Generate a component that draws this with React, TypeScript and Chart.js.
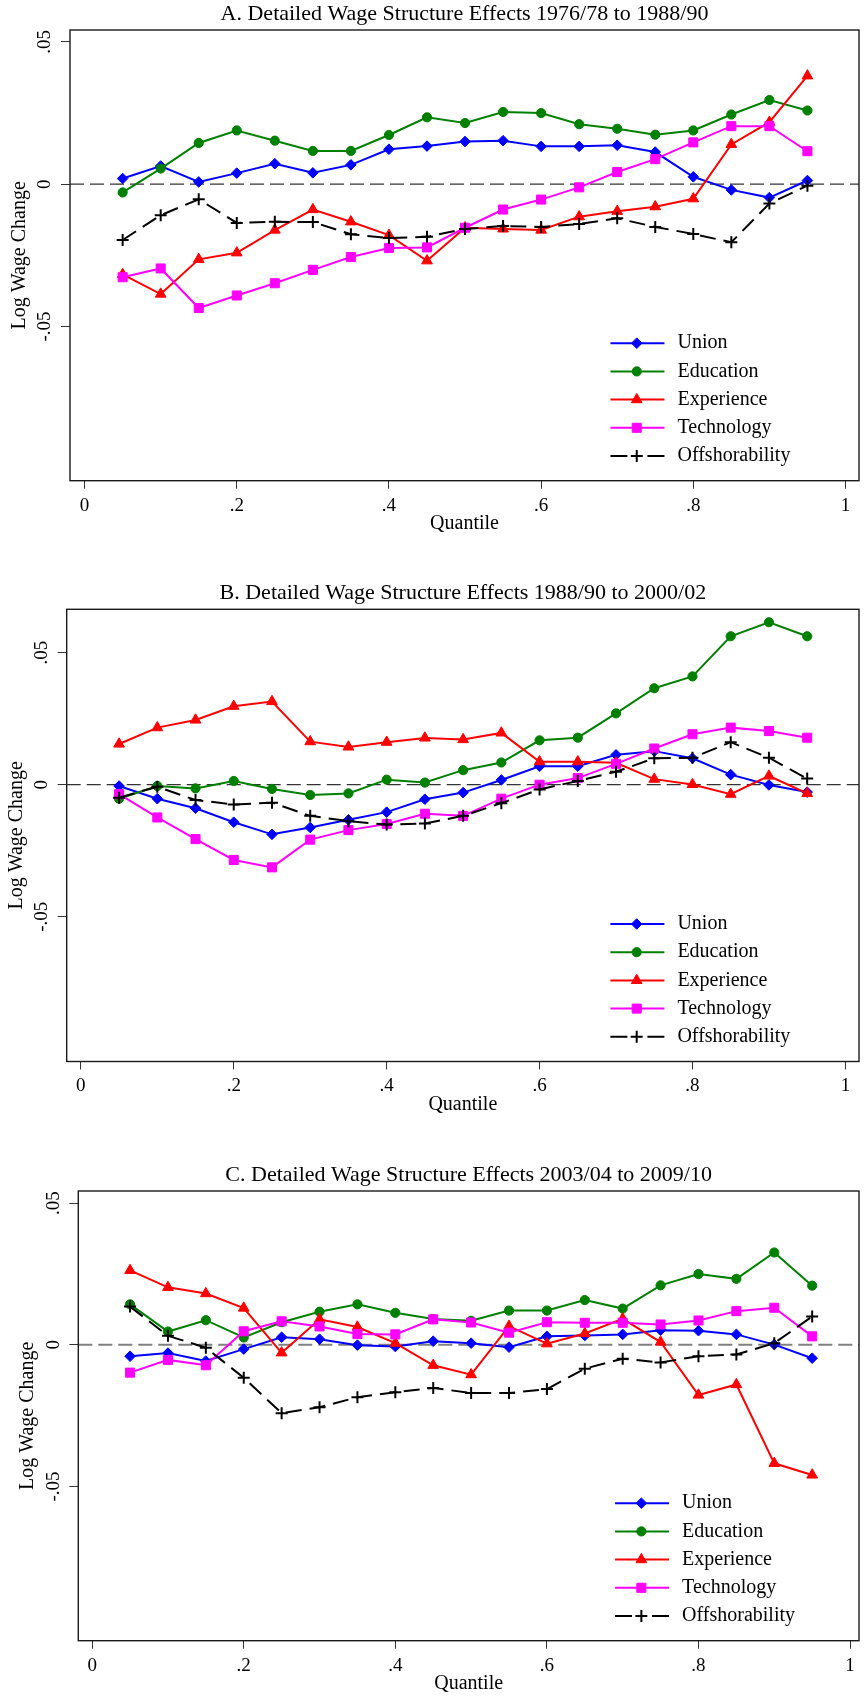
import React, { useEffect, useRef } from 'react';
import { Chart, registerables } from 'chart.js';
import { drawPoint } from 'chart.js/helpers';

Chart.register(...registerables);

const FONT = '"Liberation Serif", "Times New Roman", Times, serif';

// ---------- data ----------
const quantiles = [0.05, 0.1, 0.15, 0.2, 0.25, 0.3, 0.35, 0.4, 0.45, 0.5, 0.55, 0.6, 0.65, 0.7, 0.75, 0.8, 0.85, 0.9, 0.95];
const seriesNames = ['Union', 'Education', 'Experience', 'Technology', 'Offshorability'];
const xTickValues = [0, 0.2, 0.4, 0.6, 0.8, 1];
const xTickLabels = ['0', '.2', '.4', '.6', '.8', '1'];
const yTickValues = [-0.05, 0, 0.05];
const yTickLabels = ['-.05', '0', '.05'];
const xAxisTitle = 'Quantile';
const yAxisTitle = 'Log Wage Change';
const zeroLineValue = 0;

const titleA = 'A. Detailed Wage Structure Effects 1976/78 to 1988/90';
const titleB = 'B. Detailed Wage Structure Effects 1988/90 to 2000/02';
const titleC = 'C. Detailed Wage Structure Effects 2003/04 to 2009/10';

// Panel A
const unionA = [0.0020, 0.0064, 0.0008, 0.0039, 0.0072, 0.0040, 0.0068, 0.0123, 0.0134, 0.0150, 0.0153, 0.0133, 0.0133, 0.0137, 0.0113, 0.0026, -0.0020, -0.0047, 0.0013];
const educA = [-0.0029, 0.0055, 0.0145, 0.0189, 0.0153, 0.0117, 0.0117, 0.0173, 0.0235, 0.0215, 0.0254, 0.0250, 0.0211, 0.0195, 0.0174, 0.0189, 0.0245, 0.0296, 0.0259];
const expA = [-0.0317, -0.0386, -0.0264, -0.0241, -0.0161, -0.0089, -0.0132, -0.0179, -0.0269, -0.0153, -0.0157, -0.0161, -0.0114, -0.0095, -0.0079, -0.0051, 0.0140, 0.0218, 0.0381];
const techA = [-0.0327, -0.0296, -0.0435, -0.0391, -0.0348, -0.0301, -0.0256, -0.0224, -0.0222, -0.0153, -0.0089, -0.0054, -0.0011, 0.0043, 0.0088, 0.0147, 0.0204, 0.0204, 0.0116];
const offA = [-0.0196, -0.0109, -0.0053, -0.0136, -0.0132, -0.0133, -0.0176, -0.0189, -0.0185, -0.0157, -0.0147, -0.0150, -0.0140, -0.0120, -0.0150, -0.0175, -0.0204, -0.0068, -0.0005];

// Panel B
const unionB = [-0.0005, -0.0053, -0.0089, -0.0142, -0.0188, -0.0162, -0.0133, -0.0104, -0.0055, -0.0030, 0.0018, 0.0070, 0.0070, 0.0113, 0.0127, 0.0100, 0.0038, -0.0001, -0.0028];
const educB = [-0.0053, -0.0005, -0.0014, 0.0014, -0.0016, -0.0039, -0.0033, 0.0019, 0.0008, 0.0055, 0.0084, 0.0168, 0.0178, 0.0270, 0.0365, 0.0410, 0.0562, 0.0615, 0.0562];
const expB = [0.0154, 0.0216, 0.0245, 0.0297, 0.0315, 0.0163, 0.0143, 0.0161, 0.0177, 0.0171, 0.0196, 0.0087, 0.0087, 0.0083, 0.0021, 0.0001, -0.0036, 0.0033, -0.0033];
const techB = [-0.0036, -0.0124, -0.0206, -0.0285, -0.0313, -0.0208, -0.0172, -0.0149, -0.0110, -0.0118, -0.0053, 0.0000, 0.0025, 0.0079, 0.0137, 0.0191, 0.0216, 0.0203, 0.0178];
const offB = [-0.0049, -0.0008, -0.0058, -0.0075, -0.0068, -0.0118, -0.0138, -0.0151, -0.0147, -0.0118, -0.0070, -0.0018, 0.0014, 0.0049, 0.0100, 0.0102, 0.0161, 0.0102, 0.0023];

// Panel C
const unionC = [-0.0040, -0.0029, -0.0057, -0.0015, 0.0027, 0.0020, -0.0001, -0.0006, 0.0013, 0.0006, -0.0008, 0.0030, 0.0033, 0.0037, 0.0052, 0.0050, 0.0037, 0.0001, -0.0047];
const educC = [0.0143, 0.0047, 0.0087, 0.0026, 0.0080, 0.0117, 0.0143, 0.0113, 0.0091, 0.0085, 0.0121, 0.0121, 0.0158, 0.0128, 0.0210, 0.0250, 0.0233, 0.0326, 0.0209];
const expC = [0.0263, 0.0203, 0.0181, 0.0130, -0.0028, 0.0090, 0.0063, 0.0006, -0.0072, -0.0105, 0.0066, 0.0004, 0.0040, 0.0092, 0.0010, -0.0177, -0.0140, -0.0418, -0.0459];
const techC = [-0.0098, -0.0053, -0.0072, 0.0048, 0.0083, 0.0065, 0.0038, 0.0037, 0.0090, 0.0079, 0.0043, 0.0080, 0.0078, 0.0078, 0.0072, 0.0086, 0.0119, 0.0131, 0.0030];
const offC = [0.0135, 0.0032, -0.0010, -0.0116, -0.0241, -0.0220, -0.0185, -0.0167, -0.0152, -0.0170, -0.0170, -0.0156, -0.0084, -0.0049, -0.0062, -0.0040, -0.0034, 0.0006, 0.0100];

// ---------- styles ----------
type SeriesStyle = { color: string; pointStyle: any; radius: number; pointBorder: number; dash: number[] };
const seriesStyles: SeriesStyle[] = [
  { color: '#0000ff', pointStyle: 'rectRot', radius: 5.3, pointBorder: 1, dash: [] },
  { color: '#008000', pointStyle: 'circle', radius: 4.6, pointBorder: 1, dash: [] },
  { color: '#ff0000', pointStyle: 'triangle', radius: 6.2, pointBorder: 1, dash: [] },
  { color: '#ff00ff', pointStyle: 'rect', radius: 6.4, pointBorder: 1, dash: [] },
  { color: '#000000', pointStyle: 'cross', radius: 6, pointBorder: 2, dash: [16, 8] },
];

type PanelCfg = {
  title: string;
  series: number[][];
  yMin: number; yMax: number;
  xMin: number; xMax: number;
  top: number; height: number;
  pad: { left: number; right: number; top: number; bottom: number };
  zeroColor: string; zeroWidth: number;
};

const panels: PanelCfg[] = [
  {
    title: titleA, series: [unionA, educA, expA, techA, offA],
    yMin: -0.1042, yMax: 0.0542, xMin: -0.0192, xMax: 1.0178,
    top: 0, height: 536, pad: { left: 7.7, right: 3.7, top: 0, bottom: 0.3 },
    zeroColor: '#333333', zeroWidth: 1.2,
  },
  {
    title: titleB, series: [unionB, educB, expB, techB, offB],
    yMin: -0.1048, yMax: 0.0664, xMin: -0.0185, xMax: 1.0178,
    top: 579, height: 538, pad: { left: 4.4, right: 1, top: 0.3, bottom: 0.5 },
    zeroColor: '#333333', zeroWidth: 1.2,
  },
  {
    title: titleC, series: [unionC, educC, expC, techC, offC],
    yMin: -0.1044, yMax: 0.0543, xMin: -0.0183, xMax: 1.0118,
    top: 1161, height: 536, pad: { left: 16, right: 1, top: 0, bottom: 1.3 },
    zeroColor: '#808080', zeroWidth: 2,
  },
];

const labelFor = (values: number[], labels: string[]) => (v: any) => {
  const i = values.findIndex((t) => Math.abs(t - Number(v)) < 1e-9);
  return i >= 0 ? labels[i] : '';
};

function makePlugins(p: PanelCfg) {
  const zeroLine = {
    id: 'zeroLine',
    beforeDatasetsDraw(chart: any) {
      const { ctx, chartArea, scales } = chart;
      const y = scales.y.getPixelForValue(zeroLineValue);
      ctx.save();
      ctx.strokeStyle = p.zeroColor;
      ctx.lineWidth = p.zeroWidth;
      ctx.setLineDash([14, 6]);
      ctx.beginPath();
      ctx.moveTo(chartArea.left, y);
      ctx.lineTo(chartArea.right, y);
      ctx.stroke();
      ctx.restore();
    },
  };
  const frame = {
    id: 'frame',
    afterDraw(chart: any) {
      const { ctx, chartArea } = chart;
      ctx.save();
      ctx.strokeStyle = '#1a1a1a';
      ctx.lineWidth = 1.4;
      ctx.setLineDash([]);
      ctx.strokeRect(chartArea.left, chartArea.top, chartArea.right - chartArea.left, chartArea.bottom - chartArea.top);
      ctx.restore();
    },
  };
  const legend = {
    id: 'insideLegend',
    afterDraw(chart: any) {
      const { ctx, chartArea, scales } = chart;
      const textX = scales.x.getPixelForValue(1) - 168;
      const rowGap = 28.2;
      const lastY = chartArea.bottom - 24.7;
      seriesNames.forEach((name, i) => {
        const st = seriesStyles[i];
        const y = lastY - (seriesNames.length - 1 - i) * rowGap;
        ctx.save();
        ctx.strokeStyle = st.color;
        ctx.lineWidth = 2;
        ctx.setLineDash(st.dash.length ? [17, 20] : []);
        ctx.beginPath();
        ctx.moveTo(textX - 67, y);
        ctx.lineTo(textX - 13, y);
        ctx.stroke();
        ctx.setLineDash([]);
        ctx.fillStyle = st.color;
        ctx.strokeStyle = st.color;
        ctx.lineWidth = st.pointBorder;
        drawPoint(ctx, { pointStyle: st.pointStyle, radius: st.radius, rotation: 0, borderWidth: st.pointBorder } as any, textX - 40.7, y);
        ctx.fillStyle = '#000';
        ctx.font = `20px ${FONT}`;
        ctx.textBaseline = 'middle';
        ctx.textAlign = 'left';
        ctx.fillText(name, textX, y);
        ctx.restore();
      });
    },
  };
  return [zeroLine, frame, legend];
}

function Panel({ cfg }: { cfg: PanelCfg }) {
  const ref = useRef<HTMLCanvasElement | null>(null);
  useEffect(() => {
    if (!ref.current) return;
    const datasets = seriesNames.map((name, i) => {
      const st = seriesStyles[i];
      return {
        label: name,
        data: quantiles.map((q, j) => ({ x: q, y: cfg.series[i][j] })),
        borderColor: st.color,
        backgroundColor: st.color,
        borderWidth: 2,
        borderDash: st.dash,
        pointStyle: st.pointStyle,
        pointRadius: st.radius,
        pointBorderWidth: st.pointBorder,
        pointBackgroundColor: st.color,
        pointBorderColor: st.color,
        tension: 0,
        fill: false,
        order: seriesNames.length - i,
      };
    });
    const chart = new Chart(ref.current, {
      type: 'line',
      data: { datasets },
      plugins: makePlugins(cfg),
      options: {
        animation: false,
        responsive: false,
        maintainAspectRatio: false,
        events: [],
        layout: { padding: cfg.pad },
        plugins: {
          legend: { display: false },
          tooltip: { enabled: false },
          title: {
            display: true,
            text: cfg.title,
            fullSize: false,
            color: '#000',
            font: { family: FONT, size: 22, weight: 'normal' },
            padding: { top: 1.1, bottom: 2.5 },
          },
        },
        scales: {
          x: {
            type: 'linear',
            min: cfg.xMin,
            max: cfg.xMax,
            afterBuildTicks: (s: any) => { s.ticks = xTickValues.map((v) => ({ value: v })); },
            afterFit: (s: any) => { s.height = 55; s.paddingLeft = 0; s.paddingRight = 0; s.paddingTop = 0; s.paddingBottom = 0; },
            ticks: {
              autoSkip: false, minRotation: 0, maxRotation: 0, padding: 5.5, color: '#000',
              font: { family: FONT, size: 19 },
              callback: labelFor(xTickValues, xTickLabels),
            },
            grid: { drawOnChartArea: false, drawTicks: true, tickLength: 8, color: '#333', lineWidth: 1 },
            border: { display: false },
            title: { display: true, text: xAxisTitle, color: '#000', font: { family: FONT, size: 20 }, padding: { top: 0, bottom: 0 } },
          },
          y: {
            type: 'linear',
            min: cfg.yMin,
            max: cfg.yMax,
            afterBuildTicks: (s: any) => { s.ticks = yTickValues.map((v) => ({ value: v })); },
            afterFit: (s: any) => { s.width = 62.3; s.paddingLeft = 0; s.paddingRight = 0; s.paddingTop = 0; s.paddingBottom = 0; },
            ticks: {
              autoSkip: false, minRotation: 90, maxRotation: 90, crossAlign: 'center', padding: 0.5, color: '#000',
              font: { family: FONT, size: 19 },
              callback: labelFor(yTickValues, yTickLabels),
            },
            grid: { drawOnChartArea: false, drawTicks: true, tickLength: 9, color: '#333', lineWidth: 1 },
            border: { display: false },
            title: { display: true, text: yAxisTitle, color: '#000', font: { family: FONT, size: 20 }, padding: { top: 0, bottom: 0 } },
          },
        },
      } as any,
    });
    return () => chart.destroy();
  }, [cfg]);
  return (
    <div style={{ position: 'absolute', left: 0, top: cfg.top, width: 867, height: cfg.height }}>
      <canvas ref={ref} width={867} height={cfg.height} style={{ display: 'block', width: 867, height: cfg.height }} />
    </div>
  );
}

export default function App() {
  return (
    <div style={{ position: 'absolute', left: 0, top: 0, width: 867, height: 1697, background: '#fff' }}>
      {panels.map((p, i) => (
        <Panel key={i} cfg={p} />
      ))}
    </div>
  );
}
